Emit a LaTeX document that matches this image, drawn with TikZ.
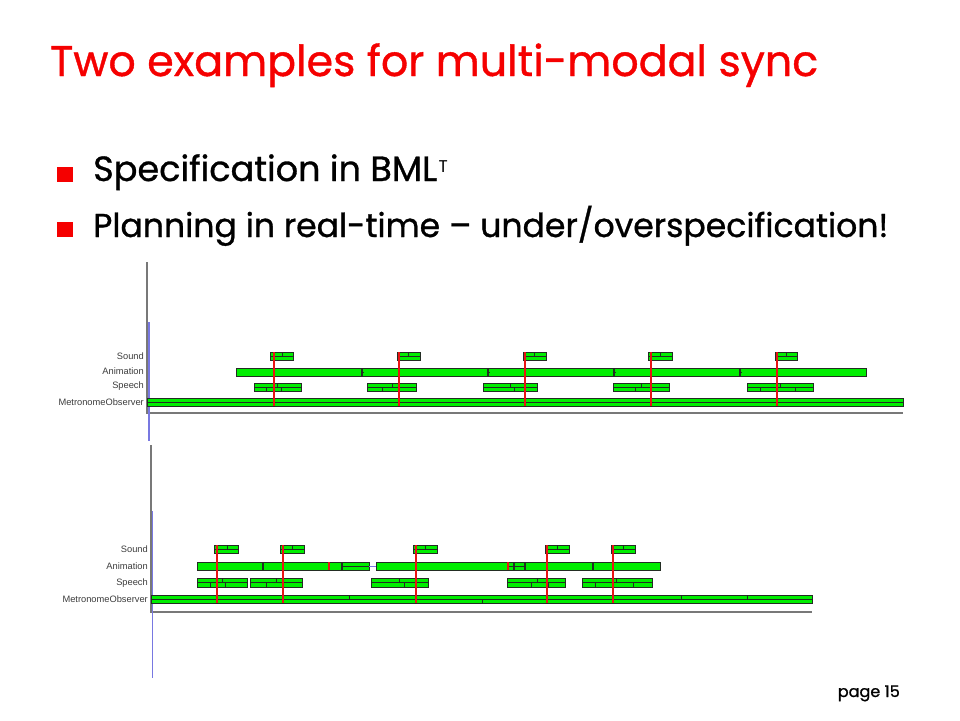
\documentclass[tikz,border=0pt]{standalone}
\usepackage{fontspec}
\setmainfont{Poppins}[FakeBold=0.9]
\newfontfamily\labfont{Liberation Sans}
\newfontfamily\supfont{Poppins}
\usepackage{graphicx}
\definecolor{tred}{RGB}{245,0,0}
\definecolor{gfill}{RGB}{0,238,0}
\definecolor{gline}{RGB}{35,45,35}
\definecolor{rline}{RGB}{232,20,20}
\definecolor{bline}{RGB}{120,120,225}
\definecolor{axgray}{RGB}{120,120,120}
\definecolor{labgray}{RGB}{60,60,60}
\tikzset{
  gb/.style={draw=gline,fill=gfill,line width=1pt},
  bl/.style={draw=gline,line width=0.9pt},
  redl/.style={draw=rline,line width=2.6pt},
  bluel/.style={draw=bline,line width=1.4pt},
  axl/.style={draw=axgray,line width=1.4pt},
  lab/.style={anchor=east,inner sep=0pt,font=\labfont\fontsize{9.3}{10}\selectfont,text=labgray},
}
\newcommand\gboxm[4]{\draw[gb] (#1,#3) rectangle (#2,#4); \draw[bl] (#1,{(#3+#4)/2}) -- (#2,{(#3+#4)/2});}
\begin{document}
\begin{tikzpicture}[x=1pt,y=-1pt]
\useasboundingbox (0,0) rectangle (960,720);
% title
\node[anchor=base west,inner sep=0pt,text=tred] (title) at (50,76)
  {\resizebox{768pt}{!}{Two examples for multi-modal sync}};
% bullets
\fill[tred] (57,167) rectangle (73,182);
\fill[tred] (57,222) rectangle (73,237);
\node[anchor=base west,inner sep=0pt] (b1) at (93,181)
  {\resizebox{344pt}{!}{Specification in BML}};
\node[anchor=base west,inner sep=0pt,font=\supfont\fontsize{17}{18}\selectfont] (b1s) at (438.5,172) {T};
\node[anchor=base west,inner sep=0pt] (b2) at (93,237)
  {\resizebox{795pt}{!}{Planning in real-time -- under/overspecification!}};
\node[anchor=base east,inner sep=0pt] (pg) at (900,697)
  {\resizebox{62pt}{!}{page 15}};

% ================= top chart =================
\draw[axl] (147,262) -- (147,413) -- (903,413);
\draw[bluel] (149,322) -- (149,441);
\node[lab] (s1) at (144,356) {Sound};
\node[lab] (a1) at (144,371) {Animation};
\node[lab] (p1) at (144,386) {Speech};
\node[lab] (m1) at (144,402) {MetronomeObserver};
% metronome
\gboxm{147}{903}{398}{406}
% animation
\draw[gb] (236,368) rectangle (866,376);
\foreach \x in {362,488,614,740} {\draw[bl,line width=1.3pt] (\x,368) -- (\x,376); \draw[bl] (\x-1.5,372) -- (\x+1.5,372);}
% sound
\foreach \a/\b/\t in {270/293/282,397/420/408,523/546/534,648/672/660,775/797/786}{
  \gboxm{\a}{\b}{352}{360}
  \draw[bl] (\t,352) -- (\t,356);
}
% speech
\foreach \a/\b/\t/\u in {254/301/277/266,367/416/392/382,483/537/510/514,613/669/641/635,747/813/780/760}{
  \gboxm{\a}{\b}{383}{391}
  \draw[bl] (\t,383) -- (\t,387);
  \draw[bl] (\u,387) -- (\u,391);
}
\draw[bl] (281,387) -- (281,391);
\draw[bl] (795,387) -- (795,391);
% red sync lines
\foreach \x in {274,399,525,651,777} \draw[redl] (\x,352) -- (\x,406);

% ================= bottom chart =================
\draw[axl] (151,445) -- (151,612) -- (812,612);
\draw[bluel] (152.5,511) -- (152.5,678);
\node[lab] (s2) at (148,549) {Sound};
\node[lab] (a2) at (148,566) {Animation};
\node[lab] (p2) at (148,583) {Speech};
\node[lab] (m2) at (148,599) {MetronomeObserver};
% metronome
\gboxm{151}{812}{595}{603}
\draw[bl] (349,595) -- (349,599);
\draw[bl] (482,599) -- (482,603);
\draw[bl] (681,595) -- (681,599);
\draw[bl] (747,595) -- (747,599);
% animation
\draw[gb] (197,562) rectangle (369,570);
\draw[gb] (376,562) rectangle (660,570);
\draw[bluel,line width=1pt] (369,566) -- (376,566);
\draw[bl] (342,566) -- (369,566);
\draw[bl] (508,566) -- (525,566);
\foreach \x in {263,342,514,525,593} \draw[bl,line width=1.1pt] (\x,562) -- (\x,570);
\draw[redl,line width=1.3pt] (329,562) -- (329,570);
\draw[redl,line width=1.3pt] (508,562) -- (508,570);
% sound
\foreach \a/\b/\t in {214/238/227,280/304/292,413/437/425,545/569/557,611/635/623}{
  \gboxm{\a}{\b}{545}{553}
  \draw[bl] (\t,545) -- (\t,549);
}
% speech
\foreach \a/\b/\t/\u in {197/247/222/210,250/302/276/266,371/428/399/404,507/565/537/531,582/652/616/595}{
  \gboxm{\a}{\b}{578}{587}
  \draw[bl] (\t,578) -- (\t,582.5);
  \draw[bl] (\u,582.5) -- (\u,587);
}
\draw[bl] (225,582.5) -- (225,587);
\draw[bl] (548,582.5) -- (548,587);
\draw[bl] (633,582.5) -- (633,587);
% red sync lines
\foreach \x in {217,283,416,547,613} \draw[redl] (\x,545) -- (\x,603);
\end{tikzpicture}
\end{document}
